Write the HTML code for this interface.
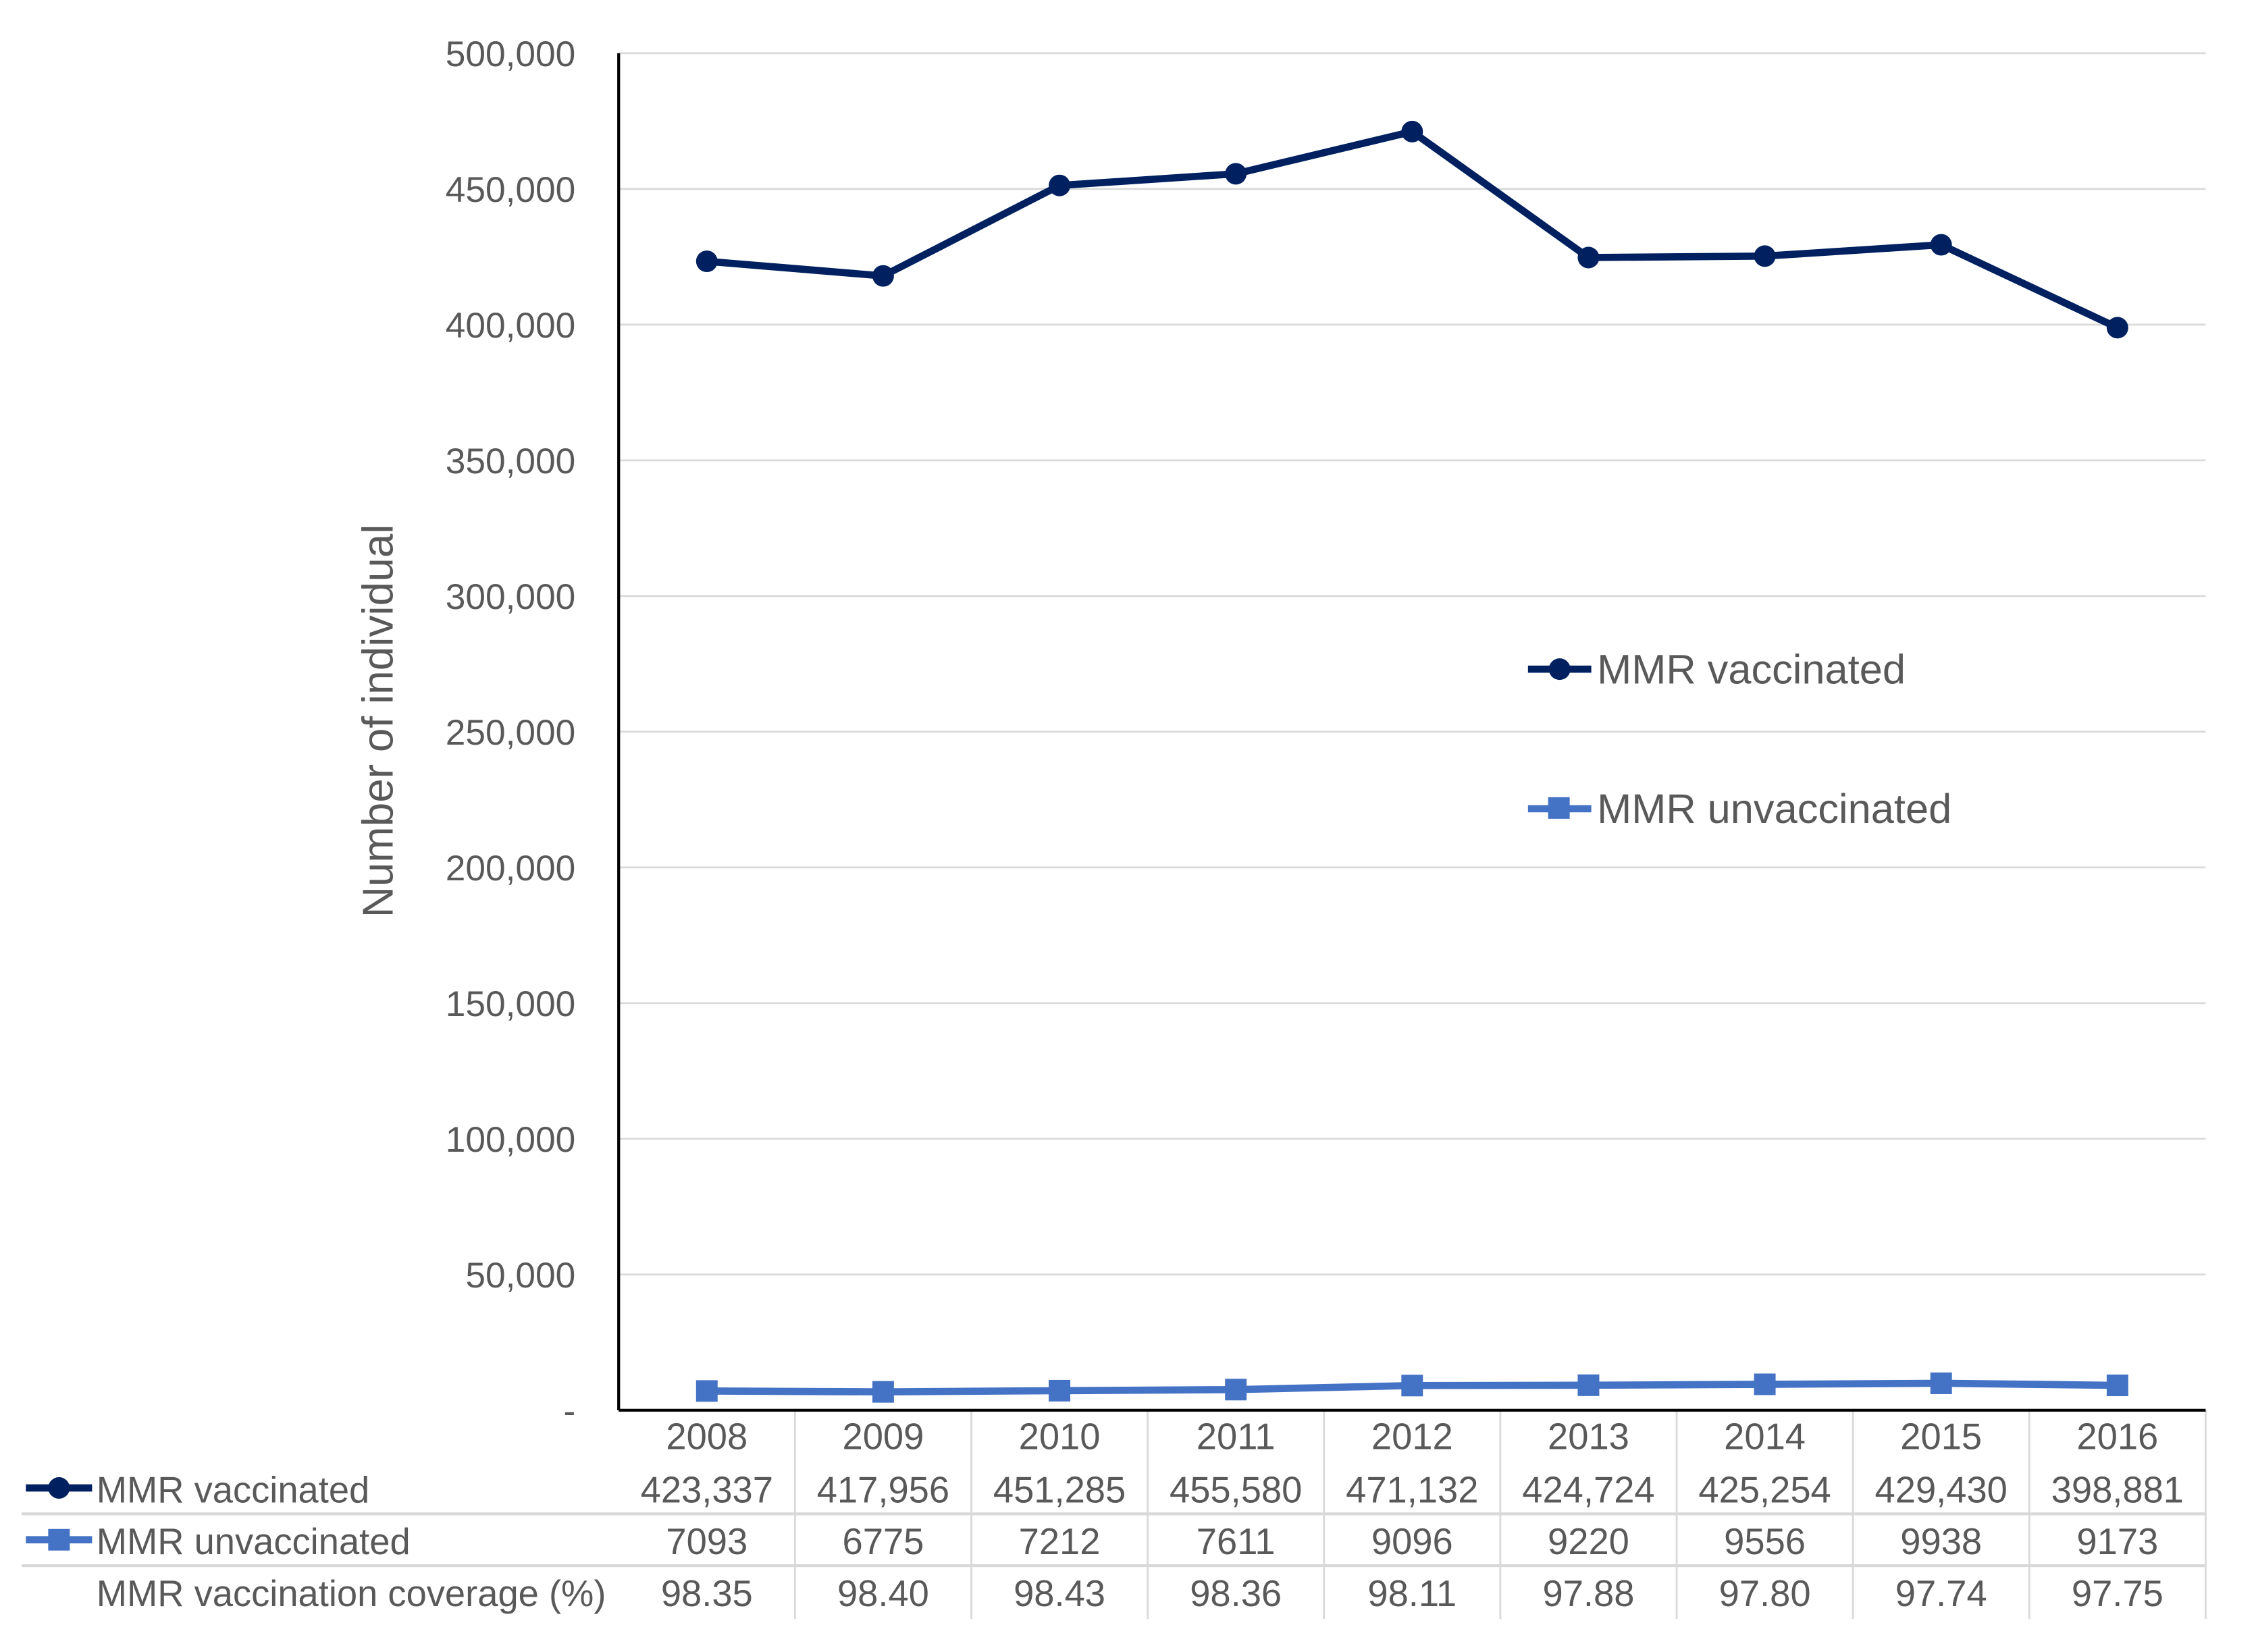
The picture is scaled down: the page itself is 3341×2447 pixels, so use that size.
<!DOCTYPE html>
<html><head><meta charset="utf-8"><style>html,body{margin:0;padding:0;background:#fff}svg{display:block}text{font-family:"Liberation Sans",Arial,sans-serif}</style></head>
<body>
<svg width="3341" height="2447" viewBox="0 0 1568 1148" preserveAspectRatio="none" xmlns="http://www.w3.org/2000/svg">
<g id="grid"></g>
<g id="yticks"></g>
<text transform="translate(273,501) rotate(-90)" text-anchor="middle" font-size="30" fill="#595959">Number of individual</text>
<g id="table"></g>
<g id="series"></g>
<line x1="430" y1="37" x2="430" y2="980" stroke="#000" stroke-width="2"/>
<line x1="430" y1="980" x2="1533" y2="980" stroke="#000" stroke-width="2"/>
<g>
 <g>
  <line x1="1062" y1="465" x2="1106" y2="465" stroke="#002060" stroke-width="5"/>
  <circle cx="1084" cy="465" r="7.5" fill="#002060"/>
  <text x="1110" y="475" font-size="28.8" fill="#595959">MMR vaccinated</text>
 </g>
 <g>
  <line x1="1062" y1="562" x2="1106" y2="562" stroke="#4472C4" stroke-width="5"/>
  <rect x="1076" y="554" width="15" height="15" fill="#4472C4"/>
  <text x="1110" y="572" font-size="28.8" fill="#595959">MMR unvaccinated</text>
 </g>
</g>
</svg>
<script>
const years=["2008","2009","2010","2011","2012","2013","2014","2015","2016"];
const vaccinated=[423337,417956,451285,455580,471132,424724,425254,429430,398881];
const unvaccinated=[7093,6775,7212,7611,9096,9220,9556,9938,9173];
const coverage=["98.35","98.40","98.43","98.36","98.11","97.88","97.80","97.74","97.75"];
const yTicks=[0,50000,100000,150000,200000,250000,300000,350000,400000,450000,500000];
const NS="http://www.w3.org/2000/svg";
const L=430,R=1533,T=37,B=980,YMAX=500000;
const colW=(R-L)/years.length;
const xs=i=>L+colW*(i+0.5);
const ys=v=>B-(v/YMAX)*(B-T);
function mk(tag,attrs,parent,txt){const e=document.createElementNS(NS,tag);for(const k in attrs)e.setAttribute(k,attrs[k]);if(txt!==undefined)e.textContent=txt;parent.appendChild(e);return e;}
const grid=document.getElementById('grid'),yt=document.getElementById('yticks');
yTicks.forEach(v=>{
 if(v>0){const g=mk('line',{x1:L,x2:R,y1:ys(v),y2:ys(v),stroke:'#d9d9d9','stroke-width':1.3},grid);
 
 }
 const t=mk('text',{x:400,y:ys(v)+9,'text-anchor':'end','font-size':25,fill:'#595959'},yt,v===0?'-':v.toLocaleString('en-US'));
 
 
});
const tb=document.getElementById('table');
[1052,1088].forEach(y=>{const l=mk('line',{x1:15,x2:R,y1:y,y2:y,stroke:'#d9d9d9','stroke-width':2},tb);
 
 });
for(let i=1;i<=years.length;i++){const x=L+colW*i;const l=mk('line',{x1:x,x2:x,y1:980,y2:1125,stroke:'#d9d9d9','stroke-width':1.3},tb);
 
 }
const rows=[{y:1007,vals:years},{y:1044,vals:vaccinated.map(v=>v.toLocaleString('en-US'))},{y:1080,vals:unvaccinated.map(String)},{y:1116,vals:coverage}];
rows.forEach((r,ri)=>r.vals.forEach((v,i)=>{const t=mk('text',{x:xs(i),y:r.y,'text-anchor':'middle','font-size':25.5,fill:'#595959'},tb,v);
 
 }));
const lab=[["MMR vaccinated",1044],["MMR unvaccinated",1080],["MMR vaccination coverage (%)",1116]];
lab.forEach(a=>{const t=mk('text',{x:67,y:a[1],'font-size':25.5,fill:'#595959'},tb,a[0]);
 
 });
mk('line',{x1:18,x2:64,y1:1034,y2:1034,stroke:'#002060','stroke-width':5},tb);
mk('circle',{cx:41,cy:1034,r:7.5,fill:'#002060'},tb);
mk('line',{x1:18,x2:64,y1:1070,y2:1070,stroke:'#4472C4','stroke-width':5},tb);
mk('rect',{x:33.5,y:1062.5,width:15,height:15,fill:'#4472C4'},tb);
const sg=document.getElementById('series');
function line(vals,color,name,marker){
 const p=mk('polyline',{points:vals.map((v,i)=>xs(i)+','+ys(v)).join(' '),fill:'none',stroke:color,'stroke-width':5,'stroke-linejoin':'round'},sg);
 
 
 vals.forEach((v,i)=>{let m;
  if(marker==='c')m=mk('circle',{cx:xs(i),cy:ys(v),r:7.5,fill:color},sg);
  else m=mk('rect',{x:xs(i)-7.5,y:ys(v)-7.5,width:15,height:15,fill:color},sg);
  
  });
}
line(unvaccinated,'#4472C4','unvaccinated','s');
line(vaccinated,'#002060','vaccinated','c');
</script>
</body></html>
